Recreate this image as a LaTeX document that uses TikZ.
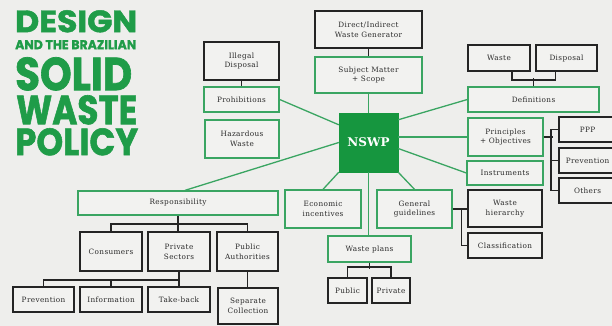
\documentclass[tikz,border=0pt]{standalone}
\usepackage{fontspec}
\usetikzlibrary{calc}
\setmainfont{DejaVu Serif}
\newfontfamily\titlefont{Poppins}[BoldFeatures={FakeBold=1.5}]
\definecolor{bgc}{HTML}{EEEEEC}
\definecolor{boxfill}{HTML}{F2F2F0}
\definecolor{gline}{HTML}{3AA562}
\definecolor{kline}{HTML}{242424}
\definecolor{nswpg}{HTML}{16963F}
\definecolor{titleg}{HTML}{1F9C48}
\definecolor{txt}{HTML}{2A2A2A}
\tikzset{
  boxtext/.style={align=center, inner sep=1pt, text=txt, font=\fontsize{7.3}{9.8}\selectfont\addfontfeature{LetterSpace=5}},
  gbox/.style={boxtext, draw=gline, line width=1.3pt, fill=boxfill},
  kbox/.style={boxtext, draw=kline, line width=1.6pt, fill=boxfill},
  nbox/.style={fill=nswpg, draw=nswpg, text=white, font=\fontsize{12}{13}\selectfont\bfseries},
  gcon/.style={draw=gline, line width=1.3pt},
  kcon/.style={draw=kline, line width=1.5pt},
  ttl/.style={anchor=north west, inner sep=0pt, text=titleg}
}
\newcommand\mybox[7]{\node[#1, minimum width={(#5-#3)*1pt}, minimum height={(#6-#4)*1pt}] (#2) at ({(#3+#5)/2},{(#4+#6)/2}) {#7};}
\begin{document}
\begin{tikzpicture}[x=1pt,y=-1pt]
\useasboundingbox[fill=bgc] (0,0) rectangle (612,326);
% title
\node[ttl] (t1) at (15,10) {\resizebox{122pt}{22pt}{\titlefont\bfseries DESIGN}};
\node[ttl] (t2) at (15,40) {\resizebox{121pt}{9pt}{\titlefont\bfseries AND THE BRAZILIAN}};
\node[ttl] (t3) at (15,57) {\resizebox{117pt}{33pt}{\titlefont\bfseries SOLID}};
\node[ttl] (t4) at (16,95) {\resizebox{121pt}{29pt}{\titlefont\bfseries WASTE}};
\node[ttl] (t5) at (15,128) {\resizebox{123pt}{27pt}{\titlefont\bfseries POLICY}};
% boxes
\mybox{kbox}{dig}{315}{11}{422}{48}{Direct/Indirect\\Waste Generator}
\mybox{gbox}{subj}{315}{57}{422}{93}{Subject Matter\\+ Scope}
\mybox{kbox}{illeg}{204}{42}{279}{80}{Illegal\\Disposal}
\mybox{gbox}{prohib}{204}{87}{279}{112}{Prohibitions}
\mybox{gbox}{haz}{205}{120}{279}{158}{Hazardous\\Waste}
\mybox{nbox}{nswp}{339}{113}{398}{172}{NSWP}
\mybox{kbox}{waste}{468}{45}{530}{71}{Waste}
\mybox{kbox}{disp}{536}{45}{597}{71}{Disposal}
\mybox{gbox}{defs}{468}{87}{599}{112}{Definitions}
\mybox{gbox}{princ}{468}{118}{543}{156}{Principles\\+ Objectives}
\mybox{kbox}{ppp}{559}{117}{616}{142}{PPP}
\mybox{kbox}{prevr}{559}{148}{616}{173}{Prevention}
\mybox{kbox}{others}{559}{178}{616}{203}{Others}
\mybox{gbox}{instr}{467}{161}{543}{185}{Instruments}
\mybox{kbox}{whier}{468}{190}{542}{227}{Waste\\hierarchy}
\mybox{kbox}{class}{468}{233}{542}{258}{Classification}
\mybox{gbox}{gg}{377}{190}{452}{228}{General\\guidelines}
\mybox{gbox}{econ}{285}{190}{361}{228}{Economic\\incentives}
\mybox{gbox}{wplans}{328}{236}{411}{262}{Waste plans}
\mybox{kbox}{public}{328}{278}{367}{303}{Public}
\mybox{kbox}{private}{372}{278}{410}{303}{Private}
\mybox{gbox}{resp}{78}{191}{278}{215}{Responsibility}
\mybox{kbox}{cons}{80}{232}{142}{271}{Consumers}
\mybox{kbox}{privsec}{148}{232}{210}{271}{Private\\Sectors}
\mybox{kbox}{pubauth}{217}{232}{278}{271}{Public\\Authorities}
\mybox{kbox}{prevl}{13}{287}{74}{312}{Prevention}
\mybox{kbox}{info}{80}{287}{142}{312}{Information}
\mybox{kbox}{take}{148}{287}{210}{312}{Take-back}
\mybox{kbox}{sepcol}{218}{288}{278}{324}{Separate\\Collection}
% connectors (green)
\draw[gcon] (nswp.north) -- (subj.south);
\draw[gcon] ($(nswp.north west)+(0,12)$) -- (prohib.east);
\draw[gcon] (nswp.west) -- ($(resp.north)+(7,0)$);
\draw[gcon] ($(nswp.north east)+(0,7)$) -- (defs.west);
\draw[gcon] (nswp.east |- princ.west) -- (princ.west);
\draw[gcon] ($(nswp.east)+(0,6)$) -- (instr.west);
\draw[gcon] (nswp.south west) -- (econ.north);
\draw[gcon] (nswp.south) -- (nswp.south |- wplans.north);
\draw[gcon] (nswp.south east) -- (gg.north);
% black connectors
\draw[kcon] (dig.south) -- (subj.north);
\draw[kcon] (illeg.south -| prohib.north) -- (prohib.north);
\draw[kcon] ([xshift=13pt]waste.south) -- ++(0,8) -| ([xshift=-11pt]disp.south);
\draw[kcon] (defs.north) -- ++(0,-8);
\draw[kcon] (princ.east) -- ++(9,0);
\draw[kcon] (ppp.west) -- ++(-7,0) |- (others.west);
\draw[kcon] (prevr.west) -- ++(-7,0);
\draw[kcon] (gg.east) -- (gg.east -| whier.west);
\draw[kcon] ($(gg.east)!0.6!(gg.east -| whier.west)$) |- (class.west);
\draw[kcon] (wplans.south) -- ++(0,6);
\draw[kcon] (public.north) -- ++(0,-10) -| (private.north);
\draw[kcon] (resp.south) -- (resp.south |- privsec.north);
\draw[kcon] (cons.north) -- ++(0,-7) -| (pubauth.north);
\draw[kcon] (privsec.south) -- (privsec.south |- take.north);
\draw[kcon] (prevl.north) -- ++(0,-6) -| (take.north);
\draw[kcon] (info.north) -- ++(0,-6);
\draw[kcon] (pubauth.south) -- (pubauth.south |- sepcol.north);
\end{tikzpicture}
\end{document}
